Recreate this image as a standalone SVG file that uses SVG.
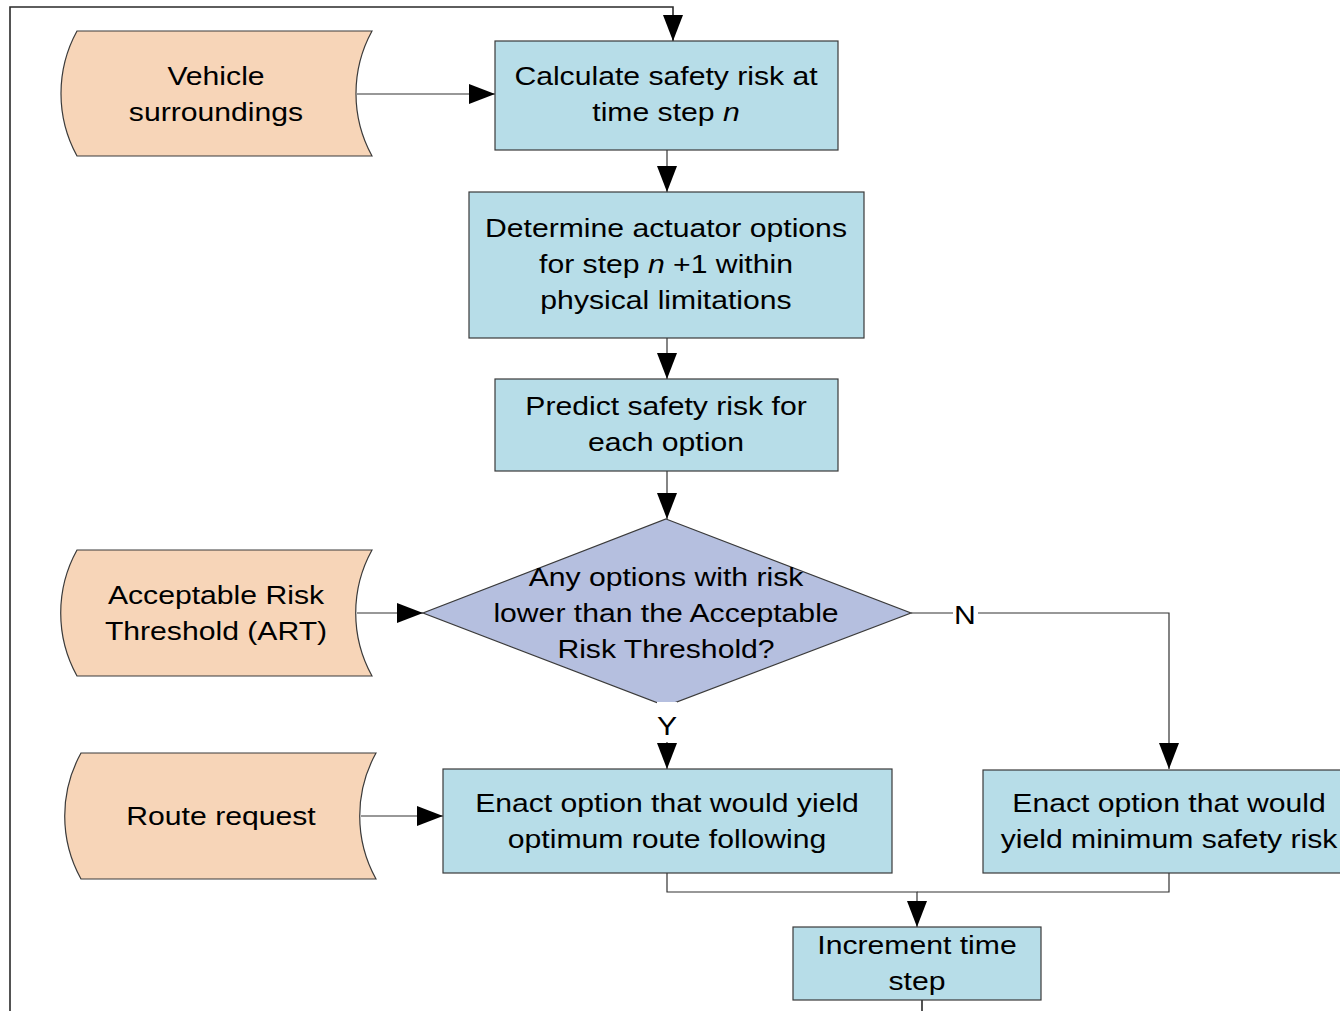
<svg xmlns="http://www.w3.org/2000/svg" width="1340" height="1011" viewBox="0 0 1340 1011">
  <style>
    .data { fill: #F7D5B8; stroke: #3a3a3a; stroke-width: 1.2; }
    .proc { fill: #B7DDE8; stroke: #3a3a3a; stroke-width: 1.2; }
    .dec  { fill: #B5BFDF; stroke: #3a3a3a; stroke-width: 1.2; }
    .wire { fill: none; stroke: #333; stroke-width: 1.2; }
    .loop { fill: none; stroke: #2a2a2a; stroke-width: 1.6; }
    .lbl  { font-family: "Liberation Sans", Arial, sans-serif; font-size: 26px; fill: #000; text-anchor: middle; }
    .bg   { fill: #fff; }
  </style>
  <defs>
    <marker id="arrow" markerUnits="userSpaceOnUse" markerWidth="26" markerHeight="20" refX="26" refY="10" orient="auto">
      <path d="M0,0 L26,10 L0,20 Z" fill="#000"/>
    </marker>
  </defs>

  <rect width="1340" height="1011" fill="#fff"/>

  <!-- connectors -->
  <g id="connectors">
    <path class="loop" d="M922,1000 V1040 H10 V7 H673 V41" marker-end="url(#arrow)"/>
    <path class="wire" d="M357,94 H495" marker-end="url(#arrow)"/>
    <path class="wire" d="M667,150 V192" marker-end="url(#arrow)"/>
    <path class="wire" d="M667,338 V379" marker-end="url(#arrow)"/>
    <path class="wire" d="M667,471 V519" marker-end="url(#arrow)"/>
    <path class="wire" d="M357,613 H423" marker-end="url(#arrow)"/>
    <path class="wire" d="M667,706 V769" marker-end="url(#arrow)"/>
    <path class="wire" d="M911,613 H1169 V769" marker-end="url(#arrow)"/>
    <path class="wire" d="M361,816 H443" marker-end="url(#arrow)"/>
    <path class="wire" d="M667,873 V892 H917 V927" marker-end="url(#arrow)"/>
    <path class="wire" d="M1169,873 V892 H917"/>
  </g>

  <!-- input: vehicle surroundings -->
  <g id="vehicle-surroundings">
    <path class="data" d="M77,31 H372 A130,130 0 0 0 372,156 H77 A130,130 0 0 1 77,31 Z"/>
    <text class="lbl" transform="translate(216,85) scale(1.16,1)"><tspan x="0">Vehicle</tspan><tspan x="0" dy="36">surroundings</tspan></text>
  </g>

  <!-- step: calculate risk -->
  <g id="calculate-risk">
    <rect class="proc" x="495" y="41" width="343" height="109"/>
    <text class="lbl" transform="translate(666,85) scale(1.16,1)"><tspan x="0">Calculate safety risk at</tspan><tspan x="0" dy="36">time step <tspan font-style="italic">n</tspan></tspan></text>
  </g>

  <!-- step: determine actuator options -->
  <g id="determine-options">
    <rect class="proc" x="469" y="192" width="395" height="146"/>
    <text class="lbl" transform="translate(666,237) scale(1.16,1)"><tspan x="0">Determine actuator options</tspan><tspan x="0" dy="36">for step <tspan font-style="italic">n</tspan> +1 within</tspan><tspan x="0" dy="36">physical limitations</tspan></text>
  </g>

  <!-- step: predict risk -->
  <g id="predict-risk">
    <rect class="proc" x="495" y="379" width="343" height="92"/>
    <text class="lbl" transform="translate(666,415) scale(1.16,1)"><tspan x="0">Predict safety risk for</tspan><tspan x="0" dy="36">each option</tspan></text>
  </g>

  <!-- decision -->
  <g id="risk-decision">
    <polygon class="dec" points="666,519 911,613 666,706 423,613"/>
    <text class="lbl" transform="translate(666,586) scale(1.16,1)"><tspan x="0">Any options with risk</tspan><tspan x="0" dy="36">lower than the Acceptable</tspan><tspan x="0" dy="36">Risk Threshold?</tspan></text>
  </g>

  <!-- input: acceptable risk threshold -->
  <g id="acceptable-risk-threshold">
    <path class="data" d="M77,550 H372 A130,130 0 0 0 372,676 H77 A130,130 0 0 1 77,550 Z"/>
    <text class="lbl" transform="translate(216,604) scale(1.16,1)"><tspan x="0">Acceptable Risk</tspan><tspan x="0" dy="36">Threshold (ART)</tspan></text>
  </g>

  <!-- branch labels -->
  <g id="label-yes">
    <rect class="bg" x="657" y="702" width="20" height="40"/>
    <text class="lbl" transform="translate(667,735) scale(1.16,1)">Y</text>
  </g>
  <g id="label-no">
    <rect class="bg" x="953" y="600" width="25" height="28"/>
    <text class="lbl" transform="translate(965,624) scale(1.16,1)">N</text>
  </g>

  <!-- input: route request -->
  <g id="route-request">
    <path class="data" d="M81,753 H376 A130,130 0 0 0 376,879 H81 A130,130 0 0 1 81,753 Z"/>
    <text class="lbl" transform="translate(221,825) scale(1.16,1)">Route request</text>
  </g>

  <!-- action: optimum route -->
  <g id="enact-route">
    <rect class="proc" x="443" y="769" width="449" height="104"/>
    <text class="lbl" transform="translate(667,812) scale(1.16,1)"><tspan x="0">Enact option that would yield</tspan><tspan x="0" dy="36">optimum route following</tspan></text>
  </g>

  <!-- action: minimum risk -->
  <g id="enact-min-risk">
    <rect class="proc" x="983" y="770" width="372" height="103"/>
    <text class="lbl" transform="translate(1169,812) scale(1.16,1)"><tspan x="0">Enact option that would</tspan><tspan x="0" dy="36">yield minimum safety risk</tspan></text>
  </g>

  <!-- step: increment time -->
  <g id="increment-time">
    <rect class="proc" x="793" y="927" width="248" height="73"/>
    <text class="lbl" transform="translate(917,954) scale(1.16,1)"><tspan x="0">Increment time</tspan><tspan x="0" dy="36">step</tspan></text>
  </g>
</svg>
